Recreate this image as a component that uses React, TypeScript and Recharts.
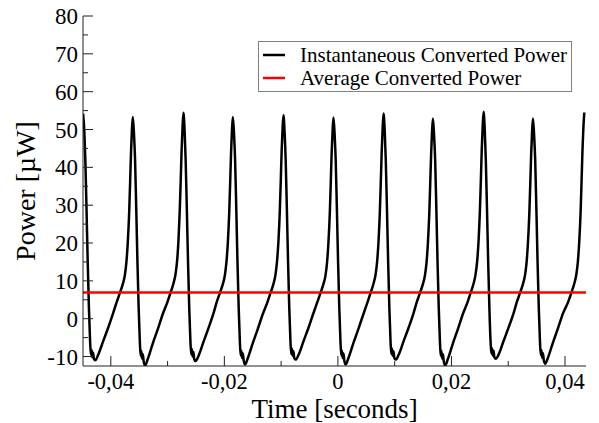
import React from 'react';
import { LineChart, Line, XAxis, YAxis, Legend } from 'recharts';

// time in seconds, power in microwatts
const time = [
  -0.04488, -0.04467, -0.04449, -0.04428, -0.04407, -0.04386, -0.04365, -0.04351, -0.0434, -0.04326, -0.04312, -0.04298, -0.04273, -0.04224, -0.04136, -0.04047, -0.03959,
  -0.03894, -0.03836, -0.03788, -0.03753, -0.03725, -0.037, -0.03677, -0.0366, -0.03644, -0.03628,
  -0.03612, -0.03591, -0.03573, -0.03552, -0.03531, -0.0351, -0.03489, -0.03475, -0.03464, -0.0345, -0.03436, -0.03422, -0.03397, -0.03348, -0.0326, -0.03171, -0.03083,
  -0.03003, -0.02945, -0.02897, -0.02862, -0.02834, -0.02809, -0.02786, -0.02769, -0.02753, -0.02737,
  -0.02721, -0.027, -0.02682, -0.02661, -0.0264, -0.02619, -0.02598, -0.02584, -0.02573, -0.02559, -0.02545, -0.02531, -0.02506, -0.02457, -0.02369, -0.0228, -0.02192,
  -0.02132, -0.02074, -0.02026, -0.01991, -0.01963, -0.01938, -0.01915, -0.01898, -0.01882, -0.01866,
  -0.0185, -0.01829, -0.01811, -0.0179, -0.01769, -0.01748, -0.01727, -0.01713, -0.01702, -0.01688, -0.01674, -0.0166, -0.01635, -0.01586, -0.01498, -0.01409, -0.01321,
  -0.01241, -0.01183, -0.01135, -0.011, -0.01072, -0.01047, -0.01024, -0.01007, -0.00991, -0.00975,
  -0.00959, -0.00938, -0.0092, -0.00899, -0.00878, -0.00857, -0.00836, -0.00822, -0.00811, -0.00797, -0.00783, -0.00769, -0.00744, -0.00695, -0.00607, -0.00518, -0.0043,
  -0.0036, -0.00302, -0.00254, -0.00219, -0.00191, -0.00166, -0.00143, -0.00126, -0.0011, -0.00094,
  -0.00078, -0.00057, -0.00039, -0.00018, 0.00003, 0.00024, 0.00045, 0.00059, 0.0007, 0.00084, 0.00098, 0.00112, 0.00137, 0.00186, 0.00274, 0.00363, 0.00451,
  0.00522, 0.0058, 0.00628, 0.00663, 0.00691, 0.00716, 0.00739, 0.00756, 0.00772, 0.00788,
  0.00804, 0.00825, 0.00843, 0.00864, 0.00885, 0.00906, 0.00927, 0.00941, 0.00952, 0.00966, 0.0098, 0.00994, 0.01019, 0.01068, 0.01156, 0.01245, 0.01333,
  0.01392, 0.0145, 0.01498, 0.01533, 0.01561, 0.01586, 0.01609, 0.01626, 0.01642, 0.01658,
  0.01674, 0.01695, 0.01713, 0.01734, 0.01755, 0.01776, 0.01797, 0.01811, 0.01822, 0.01836, 0.0185, 0.01864, 0.01889, 0.01938, 0.02026, 0.02115, 0.02203,
  0.02284, 0.02342, 0.0239, 0.02425, 0.02453, 0.02478, 0.02501, 0.02518, 0.02534, 0.0255,
  0.02566, 0.02587, 0.02605, 0.02626, 0.02647, 0.02668, 0.02689, 0.02703, 0.02714, 0.02728, 0.02742, 0.02756, 0.02781, 0.0283, 0.02918, 0.03007, 0.03095,
  0.03154, 0.03212, 0.0326, 0.03295, 0.03323, 0.03348, 0.03371, 0.03388, 0.03404, 0.0342,
  0.03436, 0.03457, 0.03475, 0.03496, 0.03517, 0.03538, 0.03559, 0.03573, 0.03584, 0.03598, 0.03612, 0.03626, 0.03651, 0.037, 0.03788, 0.03877, 0.03965,
  0.04058, 0.04116, 0.04164, 0.04199, 0.04227, 0.04252, 0.04275, 0.04292, 0.04308, 0.04324,
  0.0434,
];

const power = [
  54.2, 49.5, 42, 29, 15, 3, -6, -9.5, -8.2, -10.2, -9, -10.6, -11.0, -9.6, -6, -2.4, 1.5,
  4.5, 7, 9.2, 11.5, 15, 20.5, 28, 36, 44, 50,
  53.3, 48.6, 42, 29, 15, 3, -6, -9.8, -8.5, -10.5, -9.4, -11.2, -12.4, -10.6, -6.5, -2.7, 1.3,
  4.4, 7, 9.3, 11.6, 15, 20.5, 28.5, 36.5, 44.5, 50.5,
  54.4, 49.6, 42, 29, 15, 3, -6, -9.4, -8.0, -10.0, -8.8, -10.7, -11.2, -9.9, -6.2, -2.5, 1.4,
  4.5, 7, 9.2, 11.5, 15, 20.3, 27.8, 35.8, 43.8, 49.8,
  53.3, 48.6, 42, 29, 15, 3, -6, -9.7, -8.4, -10.4, -9.2, -11.0, -12.1, -10.4, -6.4, -2.6, 1.3,
  4.4, 7, 9.2, 11.6, 15.2, 20.6, 28.2, 36.2, 44.2, 50.2,
  53.8, 49, 42, 29, 15, 3, -6, -9.3, -7.9, -9.8, -8.6, -10.4, -10.8, -9.6, -6.0, -2.4, 1.5,
  4.5, 7, 9.2, 11.4, 14.9, 20.3, 27.8, 35.8, 43.8, 49.6,
  53.2, 48.5, 42, 29, 15, 3, -6, -9.7, -8.4, -10.4, -9.2, -11.0, -12.1, -10.4, -6.4, -2.6, 1.3,
  4.4, 7, 9.3, 11.6, 15.1, 20.6, 28.3, 36.4, 44.4, 50.4,
  54.2, 49.4, 42, 29, 15, 3, -6, -9.3, -7.9, -9.8, -8.6, -10.4, -10.8, -9.6, -6.0, -2.4, 1.5,
  4.5, 7, 9.2, 11.4, 14.8, 20.2, 27.6, 35.6, 43.5, 49.4,
  52.9, 48.2, 42, 29, 15, 3, -6, -9.8, -8.5, -10.5, -9.4, -11.2, -12.4, -10.6, -6.5, -2.7, 1.3,
  4.4, 7, 9.3, 11.7, 15.2, 20.7, 28.5, 36.6, 44.8, 50.8,
  54.7, 49.8, 42, 29, 15, 3, -6, -9.2, -7.8, -9.7, -8.5, -10.2, -10.6, -9.5, -5.9, -2.3, 1.5,
  4.5, 7, 9.2, 11.4, 14.8, 20.2, 27.5, 35.5, 43.4, 49.3,
  52.9, 48.2, 42, 29, 15, 3, -6, -9.6, -8.3, -10.3, -9.1, -10.9, -11.9, -10.3, -6.3, -2.5, 1.4,
  4.5, 7, 9.3, 11.6, 15.1, 20.6, 28.2, 36.4, 44.5, 50.5,
  54.5,
];

const averageTime = [-0.0449, 0.0437];
const averagePower = [6.9, 6.9];

const seriesNames = ['Instantaneous Converted Power', 'Average Converted Power'];

const xMajor = [-0.04, -0.02, 0, 0.02, 0.04];
const xMinor = [-0.03, -0.01, 0.01, 0.03];
const yMajor = [-10, 0, 10, 20, 30, 40, 50, 60, 70, 80];
const yMinor = [-5, 5, 15, 25, 35, 45, 55, 65, 75];

const rows = time.map((t, i) => ({ t, power: power[i] }));
const avgRows = averageTime.map((t, i) => ({ t, avg: averagePower[i] }));

const xTicks = [...xMajor, ...xMinor].sort((a, b) => a - b);
const yTicks = [...yMajor, ...yMinor].sort((a, b) => a - b);

const FONT = '"Liberation Serif", "DejaVu Serif", serif';
const FRAME = '#222';

const isMajor = (list: number[], v: number) => list.some((m) => Math.abs(m - v) < 1e-9);
const fmtX = (v: number) => (Math.abs(v) < 1e-9 ? '0' : String(v).replace('.', ','));

const BottomTick = (props: any) => {
  const { x, y, payload } = props;
  const major = isMajor(xMajor, payload.value);
  return (
    <g>
      <line x1={x} x2={x} y1={y} y2={y - (major ? 10 : 5)} stroke={FRAME} strokeWidth={1} />
      {major && (
        <text x={x} y={y + 23} textAnchor="middle" fontFamily={FONT} fontSize={22.5} fill="#000">
          {fmtX(payload.value)}
        </text>
      )}
    </g>
  );
};

const TopTick = (props: any) => {
  const { x, y, payload } = props;
  const major = isMajor(xMajor, payload.value);
  return <line x1={x} x2={x} y1={y} y2={y + (major ? 10 : 5)} stroke={FRAME} strokeWidth={1} />;
};

const LeftTick = (props: any) => {
  const { x, y, payload } = props;
  const major = isMajor(yMajor, payload.value);
  return (
    <g>
      <line x1={x} x2={x + (major ? 10 : 5)} y1={y} y2={y} stroke={FRAME} strokeWidth={1} />
      {major && (
        <text x={x - 5} y={y + 8} textAnchor="end" fontFamily={FONT} fontSize={23} fill="#000">
          {payload.value}
        </text>
      )}
    </g>
  );
};

const RightTick = (props: any) => {
  const { x, y, payload } = props;
  const major = isMajor(yMajor, payload.value);
  return <line x1={x} x2={x - (major ? 10 : 5)} y1={y} y2={y} stroke={FRAME} strokeWidth={1} />;
};

const XTitle = (props: any) => {
  const { viewBox } = props;
  return (
    <text x={viewBox.x + viewBox.width / 2} y={viewBox.y + 51.5} textAnchor="middle" fontFamily={FONT} fontSize={27} fill="#000">
      Time [seconds]
    </text>
  );
};

const YTitle = (props: any) => {
  const { viewBox } = props;
  const cy = viewBox.y + viewBox.height / 2;
  return (
    <text x={35} y={cy} transform={`rotate(-90, 35, ${cy})`} textAnchor="middle" fontFamily={FONT} fontSize={28} fill="#000">
      Power [µW]
    </text>
  );
};

const LegendBox = (props: any) => {
  const items = [...(props.payload || [])].sort(
    (a: any, b: any) => seriesNames.indexOf(a.value) - seriesNames.indexOf(b.value)
  );
  return (
    <div
      style={{
        width: 312,
        height: 49,
        border: '1px solid #808080',
        background: '#fff',
        fontFamily: FONT,
        fontSize: 21,
        color: '#000',
        boxSizing: 'content-box',
      }}
    >
      {items.map((p: any, i: number) => (
        <div key={i} style={{ display: 'flex', alignItems: 'center', height: 23, marginTop: i === 0 ? 2 : 0 }}>
          <svg width={40} height={23} style={{ marginLeft: 4 }}>
            <line x1={0} x2={22} y1={11} y2={11} stroke={p.color} strokeWidth={2.5} />
          </svg>
          <span style={{ lineHeight: '23px', marginLeft: -3 }}>{p.value}</span>
        </div>
      ))}
    </div>
  );
};

export default function App() {
  return (
    <div style={{ position: 'absolute', left: 0, top: 0, width: 599, height: 423, background: '#fff' }}>
      <LineChart width={599} height={423} data={rows} margin={{ top: 16, right: 13, bottom: 0, left: 0 }}>
        <XAxis
          dataKey="t"
          type="number"
          domain={[-0.0449, 0.0437]}
          allowDataOverflow
          ticks={xTicks}
          interval={0}
          height={57}
          tickSize={0}
          tickMargin={0}
          tickLine={false}
          axisLine={{ stroke: FRAME, strokeWidth: 1 }}
          tick={<BottomTick />}
          label={{ content: <XTitle /> }}
        />
        <XAxis
          xAxisId="top"
          orientation="top"
          dataKey="t"
          type="number"
          domain={[-0.0449, 0.0437]}
          allowDataOverflow
          ticks={xTicks}
          interval={0}
          height={0}
          tickSize={0}
          tickMargin={0}
          tickLine={false}
          axisLine={{ stroke: FRAME, strokeWidth: 1 }}
          tick={<TopTick />}
        />
        <YAxis
          type="number"
          domain={[-12.5, 80]}
          allowDataOverflow
          ticks={yTicks}
          interval={0}
          width={83}
          tickSize={0}
          tickMargin={0}
          tickLine={false}
          axisLine={{ stroke: FRAME, strokeWidth: 1 }}
          tick={<LeftTick />}
          label={{ content: <YTitle /> }}
        />
        <YAxis
          yAxisId="right"
          orientation="right"
          type="number"
          domain={[-12.5, 80]}
          allowDataOverflow
          ticks={yTicks}
          interval={0}
          width={0}
          tickSize={0}
          tickMargin={0}
          tickLine={false}
          axisLine={{ stroke: FRAME, strokeWidth: 1 }}
          tick={<RightTick />}
        />
        <Legend
          layout="vertical"
          align="center"
          verticalAlign="middle"
          content={<LegendBox />}
          wrapperStyle={{ position: 'absolute', left: 258, top: 41, width: 314, height: 51 }}
        />
        <Line
          name={seriesNames[0]}
          dataKey="power"
          type="monotone"
          stroke="#000"
          strokeWidth={2.5}
          strokeLinejoin="round"
          dot={false}
          activeDot={false}
          isAnimationActive={false}
        />
        <Line
          name={seriesNames[1]}
          data={avgRows}
          dataKey="avg"
          type="linear"
          stroke="#ff0000"
          strokeWidth={2.5}
          dot={false}
          activeDot={false}
          isAnimationActive={false}
        />
      </LineChart>
    </div>
  );
}
